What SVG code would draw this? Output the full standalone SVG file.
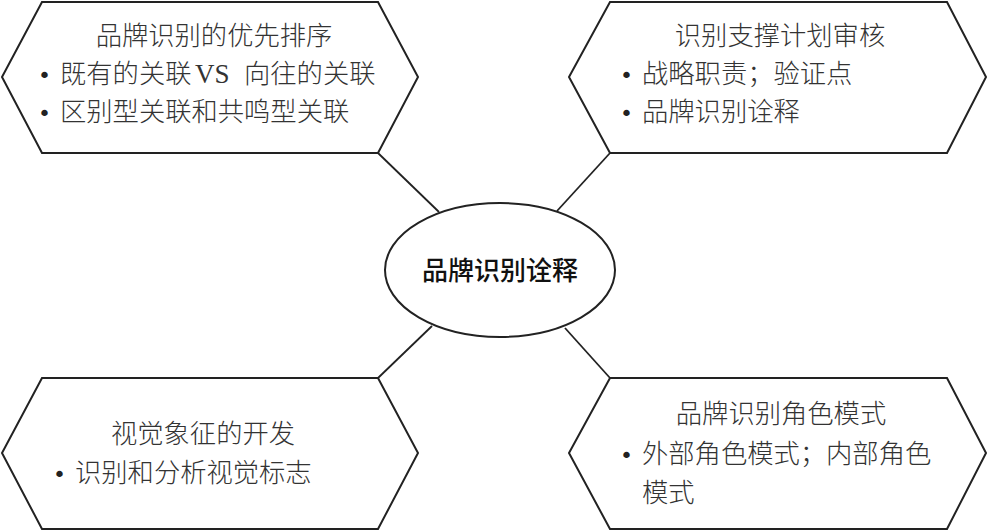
<svg xmlns="http://www.w3.org/2000/svg" width="988" height="532" viewBox="0 0 988 532">
<style>
.hex{fill:#fff;stroke:#222;stroke-width:2;stroke-linejoin:miter}
.conn{stroke:#222;stroke-width:1.8;fill:none}
.t{font-family:"Noto Sans CJK SC","Noto Sans",sans-serif;font-size:26.3px;font-weight:300;fill:#333}
.c{text-anchor:middle}
.lat{font-family:"Liberation Serif",serif;font-size:27px}
.b{font-family:"DejaVu Sans",sans-serif;font-size:22px;fill:#222}
.center{font-family:"Noto Sans CJK SC","Noto Sans",sans-serif;font-size:26px;font-weight:500;fill:#111;text-anchor:middle}
</style>
<rect width="988" height="532" fill="#fff"/>
<g id="connectors">
<line class="conn" x1="378" y1="153" x2="439" y2="212"/>
<line class="conn" x1="610" y1="153" x2="557" y2="211"/>
<line class="conn" x1="432" y1="326" x2="378" y2="378"/>
<line class="conn" x1="565" y1="328" x2="610" y2="378"/>
</g>
<g id="node-tl">
<polygon class="hex" points="42,2 378,2 418,77 378,153 42,153 2,77"/>
<text class="t c" x="214" y="45">品牌识别的优先排序</text>
<text class="b" x="38" y="83">•</text>
<text class="t" x="60" y="83">既有的关联<tspan class="lat" x="195">VS</tspan><tspan x="244">向往的关联</tspan></text>
<text class="b" x="38" y="121">•</text>
<text class="t" x="60" y="121">区别型关联和共鸣型关联</text>
</g>
<g id="node-tr">
<polygon class="hex" points="610,2 947,2 986,77 947,153 610,153 569,77"/>
<text class="t c" x="780" y="45">识别支撑计划审核</text>
<text class="b" x="620" y="83">•</text>
<text class="t" x="642" y="83">战略职责；验证点</text>
<text class="b" x="620" y="121">•</text>
<text class="t" x="642" y="121">品牌识别诠释</text>
</g>
<g id="node-center">
<ellipse cx="500" cy="270" rx="115" ry="67" fill="#fff" stroke="#222" stroke-width="2"/>
<text class="center" x="500" y="280">品牌识别诠释</text>
</g>
<g id="node-bl">
<polygon class="hex" points="42,378 378,378 418,453 378,529 42,529 2,453"/>
<text class="t c" x="203" y="443">视觉象征的开发</text>
<text class="b" x="53" y="482">•</text>
<text class="t" x="75" y="482">识别和分析视觉标志</text>
</g>
<g id="node-br">
<polygon class="hex" points="610,378 947,378 986,453 947,529 610,529 569,453"/>
<text class="t c" x="781" y="423">品牌识别角色模式</text>
<text class="b" x="620" y="463">•</text>
<text class="t" x="642" y="463">外部角色模式；内部角色</text>
<text class="t" x="642" y="502">模式</text>
</g>
</svg>
